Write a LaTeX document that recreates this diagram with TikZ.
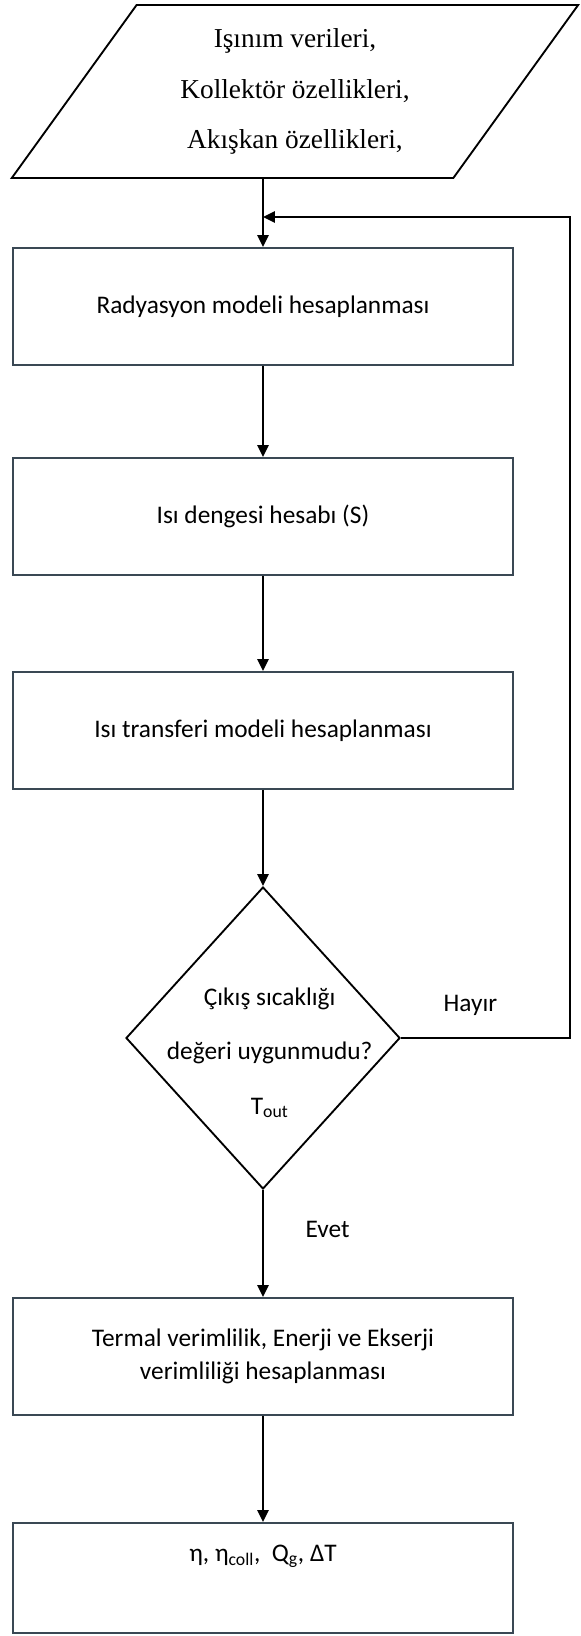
\documentclass[tikz,border=0pt]{standalone}
\usepackage{fontspec}
\setmainfont{Carlito}
\newfontfamily\inputfont{Liberation Serif}
\usetikzlibrary{positioning,shapes.geometric,arrows.meta}
\definecolor{boxline}{RGB}{58,72,84}

\begin{document}
\begin{tikzpicture}[
	process/.style={rectangle, draw=boxline, line width=1.4pt, minimum width=375pt, minimum height=87.75pt, inner sep=4pt, align=center, font=\fontsize{19}{25}\selectfont},
	io/.style={trapezium, trapezium left angle=55.2, trapezium right angle=124.8, trapezium stretches, draw=black, line width=1.4pt, minimum width=425.25pt, minimum height=129.75pt, align=center, font=\inputfont\fontsize{20.5}{38}\selectfont},
	decision/.style={diamond, draw=black, line width=1.4pt, minimum width=205.5pt, minimum height=226.5pt, inner sep=0pt},
	note/.style={font=\fontsize{19}{25}\selectfont},
	arrow/.style={line width=1.4pt, -{Triangle[length=9pt,width=8.5pt]}}
]
\useasboundingbox (-197.25pt,229.875pt) rectangle (238.5pt,-997.125pt);
\node[process] (radiation) at (0,0) {Radyasyon modeli hesaplanması};
\node[io] (input) [above=51.1pt of radiation, xshift=24pt] {Işınım verileri,\\Kollektör özellikleri,\\Akışkan özellikleri,};
\node[process] (balance) [below=68.35pt of radiation] {Isı dengesi hesabı (S)};
\node[process] (transfer) [below=71.35pt of balance] {Isı transferi modeli hesaplanması};
\node[decision, label={[align=center, font=\fontsize{19}{41}\selectfont, xshift=5pt, yshift=-11pt]center:Çıkış sıcaklığı\\değeri uygunmudu?\\T\textsubscript{out}}] (check) [below=72.1pt of transfer] {};
\node[process] (efficiency) [below=80.35pt of check] {Termal verimlilik, Enerji ve Ekserji\\verimliliği hesaplanması};
\node[process, minimum height=82.5pt, text height=24.5pt, text depth=50pt] (result) [below=79.6pt of efficiency] {η, η\textsubscript{coll},\ \ Q\textsubscript{g}, ΔT};
\coordinate[above=22.55pt of radiation.north] (join);

\draw[arrow] (input.south -| radiation.north) -- (radiation.north);
\draw[arrow] (radiation) -- (balance);
\draw[arrow] (balance) -- (transfer);
\draw[arrow] (transfer) -- (check);
\draw[arrow] (check) -- node[note, pos=0.37, right=28pt] {Evet} (efficiency);
\draw[arrow] (efficiency) -- (result);
\draw[arrow] (check.east) -- node[note, pos=0.41, above=13pt] {Hayır} ++(127.1pt,0) |- (join);
\end{tikzpicture}
\end{document}
